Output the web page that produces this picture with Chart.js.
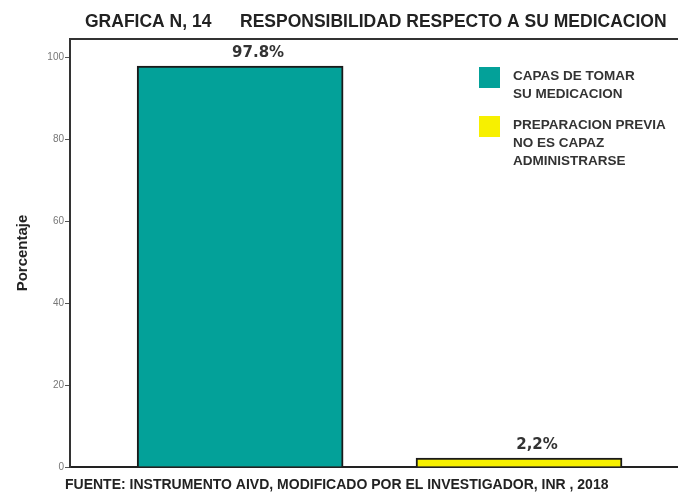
<!DOCTYPE html>
<html>
<head>
<meta charset="utf-8">
<title>Grafica 14</title>
<script src="https://cdn.jsdelivr.net/npm/chart.js@4.4.1/dist/chart.umd.min.js"></script>
<style>
  html, body { margin: 0; padding: 0; background: #fff; }
  #wrap { width: 678px; height: 494px; position: relative; }
</style>
</head>
<body>
<div id="wrap"><canvas id="grafica14"></canvas></div>
<script>
var categories = ['CAPAS DE TOMAR SU MEDICACION', 'PREPARACION PREVIA NO ES CAPAZ ADMINISTRARSE']
var legendLines = [['CAPAS DE TOMAR', 'SU MEDICACION'], ['PREPARACION PREVIA', 'NO ES CAPAZ', 'ADMINISTRARSE']]
var porcentajes = [97.8, 2.2]
var barLabels = ['97.8%', '2,2%']
var yTicks = [0, 20, 40, 60, 80, 100]
var colores = ['#03a199', '#f7f000']

var sans = '"Liberation Sans", Arial, sans-serif'

// titles, frame, value labels, legend and footer drawn on the canvas
var extras = {
    id: 'extras',
    afterDraw: function (chart) {
        var c = chart.ctx
        var area = chart.chartArea
        c.save()

        // top frame line
        c.strokeStyle = '#333'
        c.lineWidth = 2
        c.beginPath()
        c.moveTo(area.left, area.top)
        c.lineTo(area.right, area.top)
        c.stroke()

        c.fillStyle = '#222'
        c.textBaseline = 'alphabetic'
        c.textAlign = 'left'
        c.font = 'bold 17.5px ' + sans
        c.fillText('GRAFICA N, 14', 85, 27)
        c.fillText('RESPONSIBILIDAD RESPECTO A SU MEDICACION', 240, 27)

        // value labels above the bars
        var meta = chart.getDatasetMeta(0)
        c.font = 'bold 15px "DejaVu Sans", sans-serif'
        c.textAlign = 'center'
        c.fillStyle = '#333'
        meta.data.forEach(function (bar, i) {
            c.fillText(barLabels[i], bar.x + 18, bar.y - 9)
        })

        // legend
        c.textAlign = 'left'
        c.font = 'bold 13.5px ' + sans
        var y0 = [67, 116]
        legendLines.forEach(function (lines, i) {
            c.fillStyle = colores[i]
            c.fillRect(479, y0[i], 21, 21)
            c.fillStyle = '#333'
            lines.forEach(function (t, j) {
                c.fillText(t, 513, y0[i] + 13 + j * 18)
            })
        })

        // footer
        c.fillStyle = '#222'
        c.font = 'bold 14px ' + sans
        c.fillText('FUENTE: INSTRUMENTO AIVD, MODIFICADO POR EL INVESTIGADOR, INR , 2018', 65, 489)
        c.restore()
    }
}

var ctx = document.getElementById('grafica14').getContext('2d')

new Chart(ctx, {
    type: 'bar',
    data: {
        labels: categories,
        datasets: [{
            label: 'Porcentaje',
            data: porcentajes.map(function (v, i) { return { x: i + 1, y: v } }),
            backgroundColor: colores,
            borderColor: '#1a1a1a',
            borderWidth: 2,
            borderSkipped: 'bottom',
            barThickness: 206
        }]
    },
    options: {
        responsive: true,
        maintainAspectRatio: false,
        animation: false,
        layout: { padding: { top: 39, bottom: 27, left: 14, right: 0 } },
        plugins: {
            legend: { display: false },
            tooltip: { enabled: false }
        },
        scales: {
            x: {
                type: 'linear',
                offset: false,
                min: 0.39,
                max: 2.57,
                ticks: { display: false },
                grid: { display: false },
                border: { display: true, color: '#222', width: 2 },
                afterFit: function (s) { s.height = 0 }
            },
            y: {
                min: 0,
                max: 104.4,
                afterBuildTicks: function (s) {
                    s.ticks = yTicks.map(function (v) { return { value: v } })
                },
                ticks: {
                    color: '#777',
                    font: { size: 10, family: sans },
                    padding: 1
                },
                grid: { drawOnChartArea: false, drawTicks: true, tickLength: 5, color: '#555' },
                border: { display: true, color: '#333', width: 2 },
                title: {
                    display: true,
                    text: 'Porcentaje',
                    color: '#222',
                    font: { size: 15, weight: 'bold', family: sans },
                    padding: { top: 0, bottom: 0 }
                },
                afterFit: function (s) { s.width = 56 }
            }
        }
    },
    plugins: [extras]
})
</script>
</body>
</html>
